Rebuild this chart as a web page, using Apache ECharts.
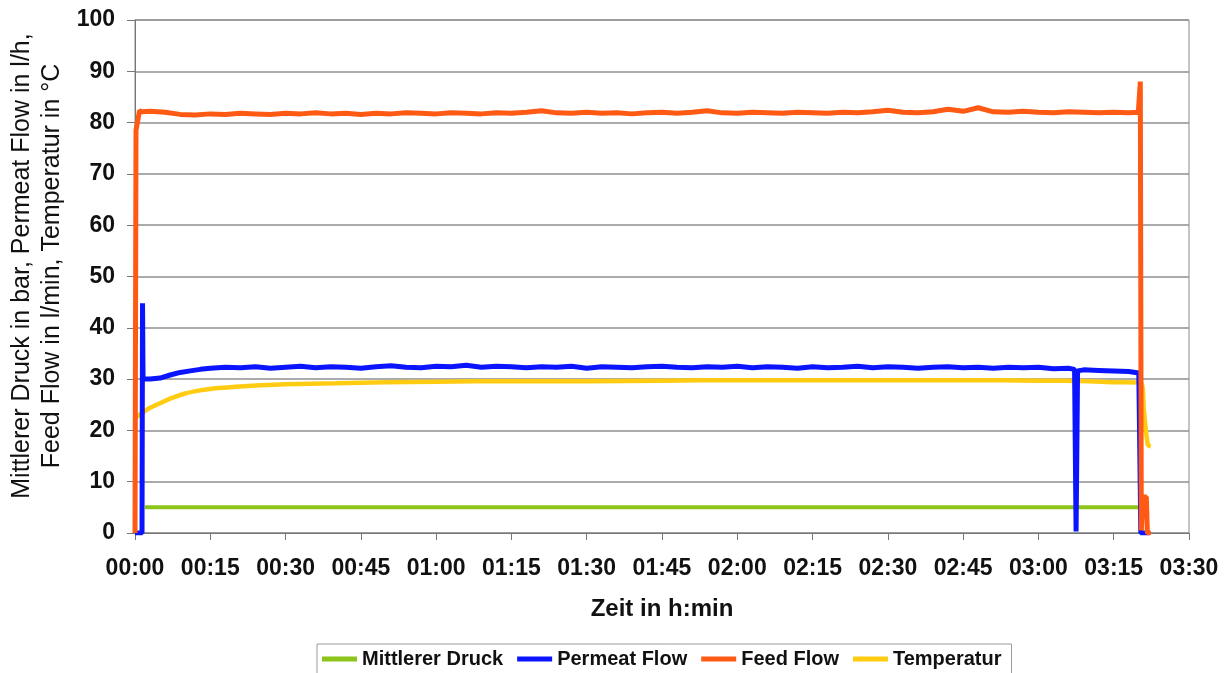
<!DOCTYPE html>
<html>
<head>
<meta charset="utf-8">
<script src="https://cdn.jsdelivr.net/npm/echarts@6/dist/echarts.min.js"></script>
<style>html,body{margin:0;padding:0;background:#fff}#c{width:1232px;height:673px}</style>
</head>
<body>
<div id="c"></div>
<script>
// time in minutes, values in chart units
var xTicks = ['00:00','00:15','00:30','00:45','01:00','01:15','01:30','01:45','02:00','02:15','02:30','02:45','03:00','03:15','03:30'];
var yTicks = [0,10,20,30,40,50,60,70,80,90,100];
var yTitle = 'Mittlerer Druck in bar, Permeat Flow in l/h,\nFeed Flow in l/min, Temperatur in °C';
var xTitle = 'Zeit in h:min';

var druckTime = [2.0, 60, 120, 200.0];
var druckValue = [5.0, 5.0, 5.0, 5.0];

var permTime = [0, 1.4, 1.5, 1.6, 3, 5, 7, 9, 11, 13, 15, 18,
  21,24,27,30,33,36,39,42,45,48,51,54,57,60,63,66,69,72,75,78,81,84,87,90,93,96,99,102,105,108,111,114,117,120,123,126,129,132,135,138,141,144,147,150,153,156,159,162,165,168,171,174,177,180,183,186,
  187.2, 187.5, 187.8, 189, 192, 195, 198, 200.0, 200.4, 202.0];
var permValue = [0, 0, 44.8, 30.0, 30.0, 30.2, 30.8, 31.3, 31.6, 31.9, 32.1, 32.3,
  32.2,32.4,32.1,32.3,32.5,32.2,32.4,32.3,32.1,32.4,32.6,32.3,32.2,32.5,32.4,32.7,32.3,32.5,32.4,32.2,32.4,32.3,32.5,32.1,32.4,32.3,32.2,32.4,32.5,32.3,32.2,32.4,32.3,32.5,32.2,32.4,32.3,32.1,32.4,32.2,32.3,32.5,32.2,32.4,32.3,32.1,32.3,32.4,32.2,32.3,32.1,32.3,32.2,32.3,32.0,32.1,
  31.9, 0.3, 31.6, 31.8, 31.7, 31.6, 31.5, 31.2, 0, 0];

var feedTime = [0, 0.2, 0.9, 1.5,
  3,6,9,12,15,18,21,24,27,30,33,36,39,42,45,48,51,54,57,60,63,66,69,72,75,78,81,84,87,90,93,96,99,102,105,108,111,114,117,120,123,126,129,132,135,138,141,144,147,150,153,156,159,162,165,168,171,174,177,180,183,186,189,192,195,198,
  199.9, 200.3, 200.5, 200.8, 201.5, 201.7, 202.4];
var feedValue = [0, 78.5, 82.3, 82.1,
  82.2,82.0,81.6,81.5,81.7,81.6,81.8,81.7,81.6,81.8,81.7,81.9,81.7,81.8,81.6,81.8,81.7,81.9,81.8,81.7,81.9,81.8,81.7,81.9,81.8,82.0,82.3,81.9,81.8,82.0,81.8,81.9,81.7,81.9,82.0,81.8,82.0,82.3,81.9,81.8,82.0,81.9,81.8,82.0,81.9,81.8,82.0,81.9,82.1,82.4,82.0,81.9,82.1,82.6,82.2,82.9,82.1,82.0,82.2,82.0,81.9,82.1,82.0,81.9,82.0,81.9,
  82.0, 88.0, 0.5, 7.0, 7.0, 0, 0];

var tempTime = [0.2, 1.3, 3, 5, 7, 10, 13, 16, 20, 25, 30, 40, 50, 60, 75, 90, 105, 120, 135, 150, 165, 180, 190, 195, 200.4, 201.0, 201.8, 202.4];
var tempValue = [22.5, 23.3, 24.4, 25.3, 26.2, 27.2, 27.8, 28.2, 28.5, 28.8, 29.0, 29.2, 29.4, 29.5, 29.6, 29.6, 29.7, 29.8, 29.8, 29.8, 29.8, 29.7, 29.6, 29.4, 29.3, 24.0, 17.2, 16.9];

function pairs(t, v) { return t.map(function (x, i) { return [x, v[i]]; }); }

var FF = '"Liberation Sans", Arial, sans-serif';
var chart = echarts.init(document.getElementById('c'));
chart.setOption({
  animation: false,
  backgroundColor: '#fff',
  grid: { left: 135, right: 43, top: 20, bottom: 140, show: true, borderColor: '#8a8a8a', borderWidth: 1, backgroundColor: 'transparent' },
  graphic: [{
    type: 'text', x: 37, y: 266, rotation: Math.PI / 2,
    style: { text: yTitle, align: 'center', verticalAlign: 'middle', lineHeight: 30,
      font: '25px "Liberation Sans", Arial, sans-serif', fill: '#111' }
  }],
  legend: {
    left: 317, top: 644,
    padding: [5, 10, 5, 5],
    borderColor: '#9a9a9a', borderWidth: 1,
    itemWidth: 35, itemHeight: 5, itemGap: 14,
    icon: 'rect',
    textStyle: { fontFamily: FF, fontSize: 20, fontWeight: 'bold', color: '#111' },
    data: ['Mittlerer Druck', 'Permeat Flow', 'Feed Flow', 'Temperatur']
  },
  xAxis: {
    type: 'value', min: 0, max: 210, interval: 15,
    name: xTitle, nameLocation: 'middle', nameGap: 64,
    nameTextStyle: { fontFamily: FF, fontSize: 24, fontWeight: 'bold', color: '#111' },
    axisLine: { show: true, lineStyle: { color: '#777', width: 1 } },
    axisTick: { show: true, length: 7, lineStyle: { color: '#777' } },
    axisLabel: { margin: 24, fontFamily: FF, fontSize: 23, fontWeight: 'bold', color: '#111',
      formatter: function (v) { return xTicks[Math.round(v / 15)]; } },
    splitLine: { show: false }
  },
  yAxis: {
    type: 'value', min: 0, max: 100, interval: 10,
    axisLine: { show: true, lineStyle: { color: '#777', width: 1 } },
    axisTick: { show: true, length: 8, lineStyle: { color: '#777' } },
    axisLabel: { margin: 20, fontFamily: FF, fontSize: 23, fontWeight: 'bold', color: '#111',
      formatter: function (v) { return String(yTicks[Math.round(v / 10)]); } },
    splitLine: { show: true, lineStyle: { color: '#8f8f8f', width: 1.5 } }
  },
  series: [
    { name: 'Mittlerer Druck', type: 'line', data: pairs(druckTime, druckValue), showSymbol: false, symbol: 'none',
      lineStyle: { color: '#8cc41a', width: 4 }, itemStyle: { color: '#8cc41a' }, z: 2 },
    { name: 'Temperatur', type: 'line', data: pairs(tempTime, tempValue), showSymbol: false, symbol: 'none', smooth: 0.3,
      lineStyle: { color: '#ffcc11', width: 4.5 }, itemStyle: { color: '#ffcc11' }, z: 3 },
    { name: 'Permeat Flow', type: 'line', data: pairs(permTime, permValue), showSymbol: false, symbol: 'none',
      lineStyle: { color: '#0a14ff', width: 5 }, itemStyle: { color: '#0a14ff' }, z: 4 },
    { name: 'Feed Flow', type: 'line', data: pairs(feedTime, feedValue), showSymbol: false, symbol: 'none',
      lineStyle: { color: '#ff5a14', width: 5 }, itemStyle: { color: '#ff5a14' }, z: 5 }
  ]
});
</script>
</body>
</html>
